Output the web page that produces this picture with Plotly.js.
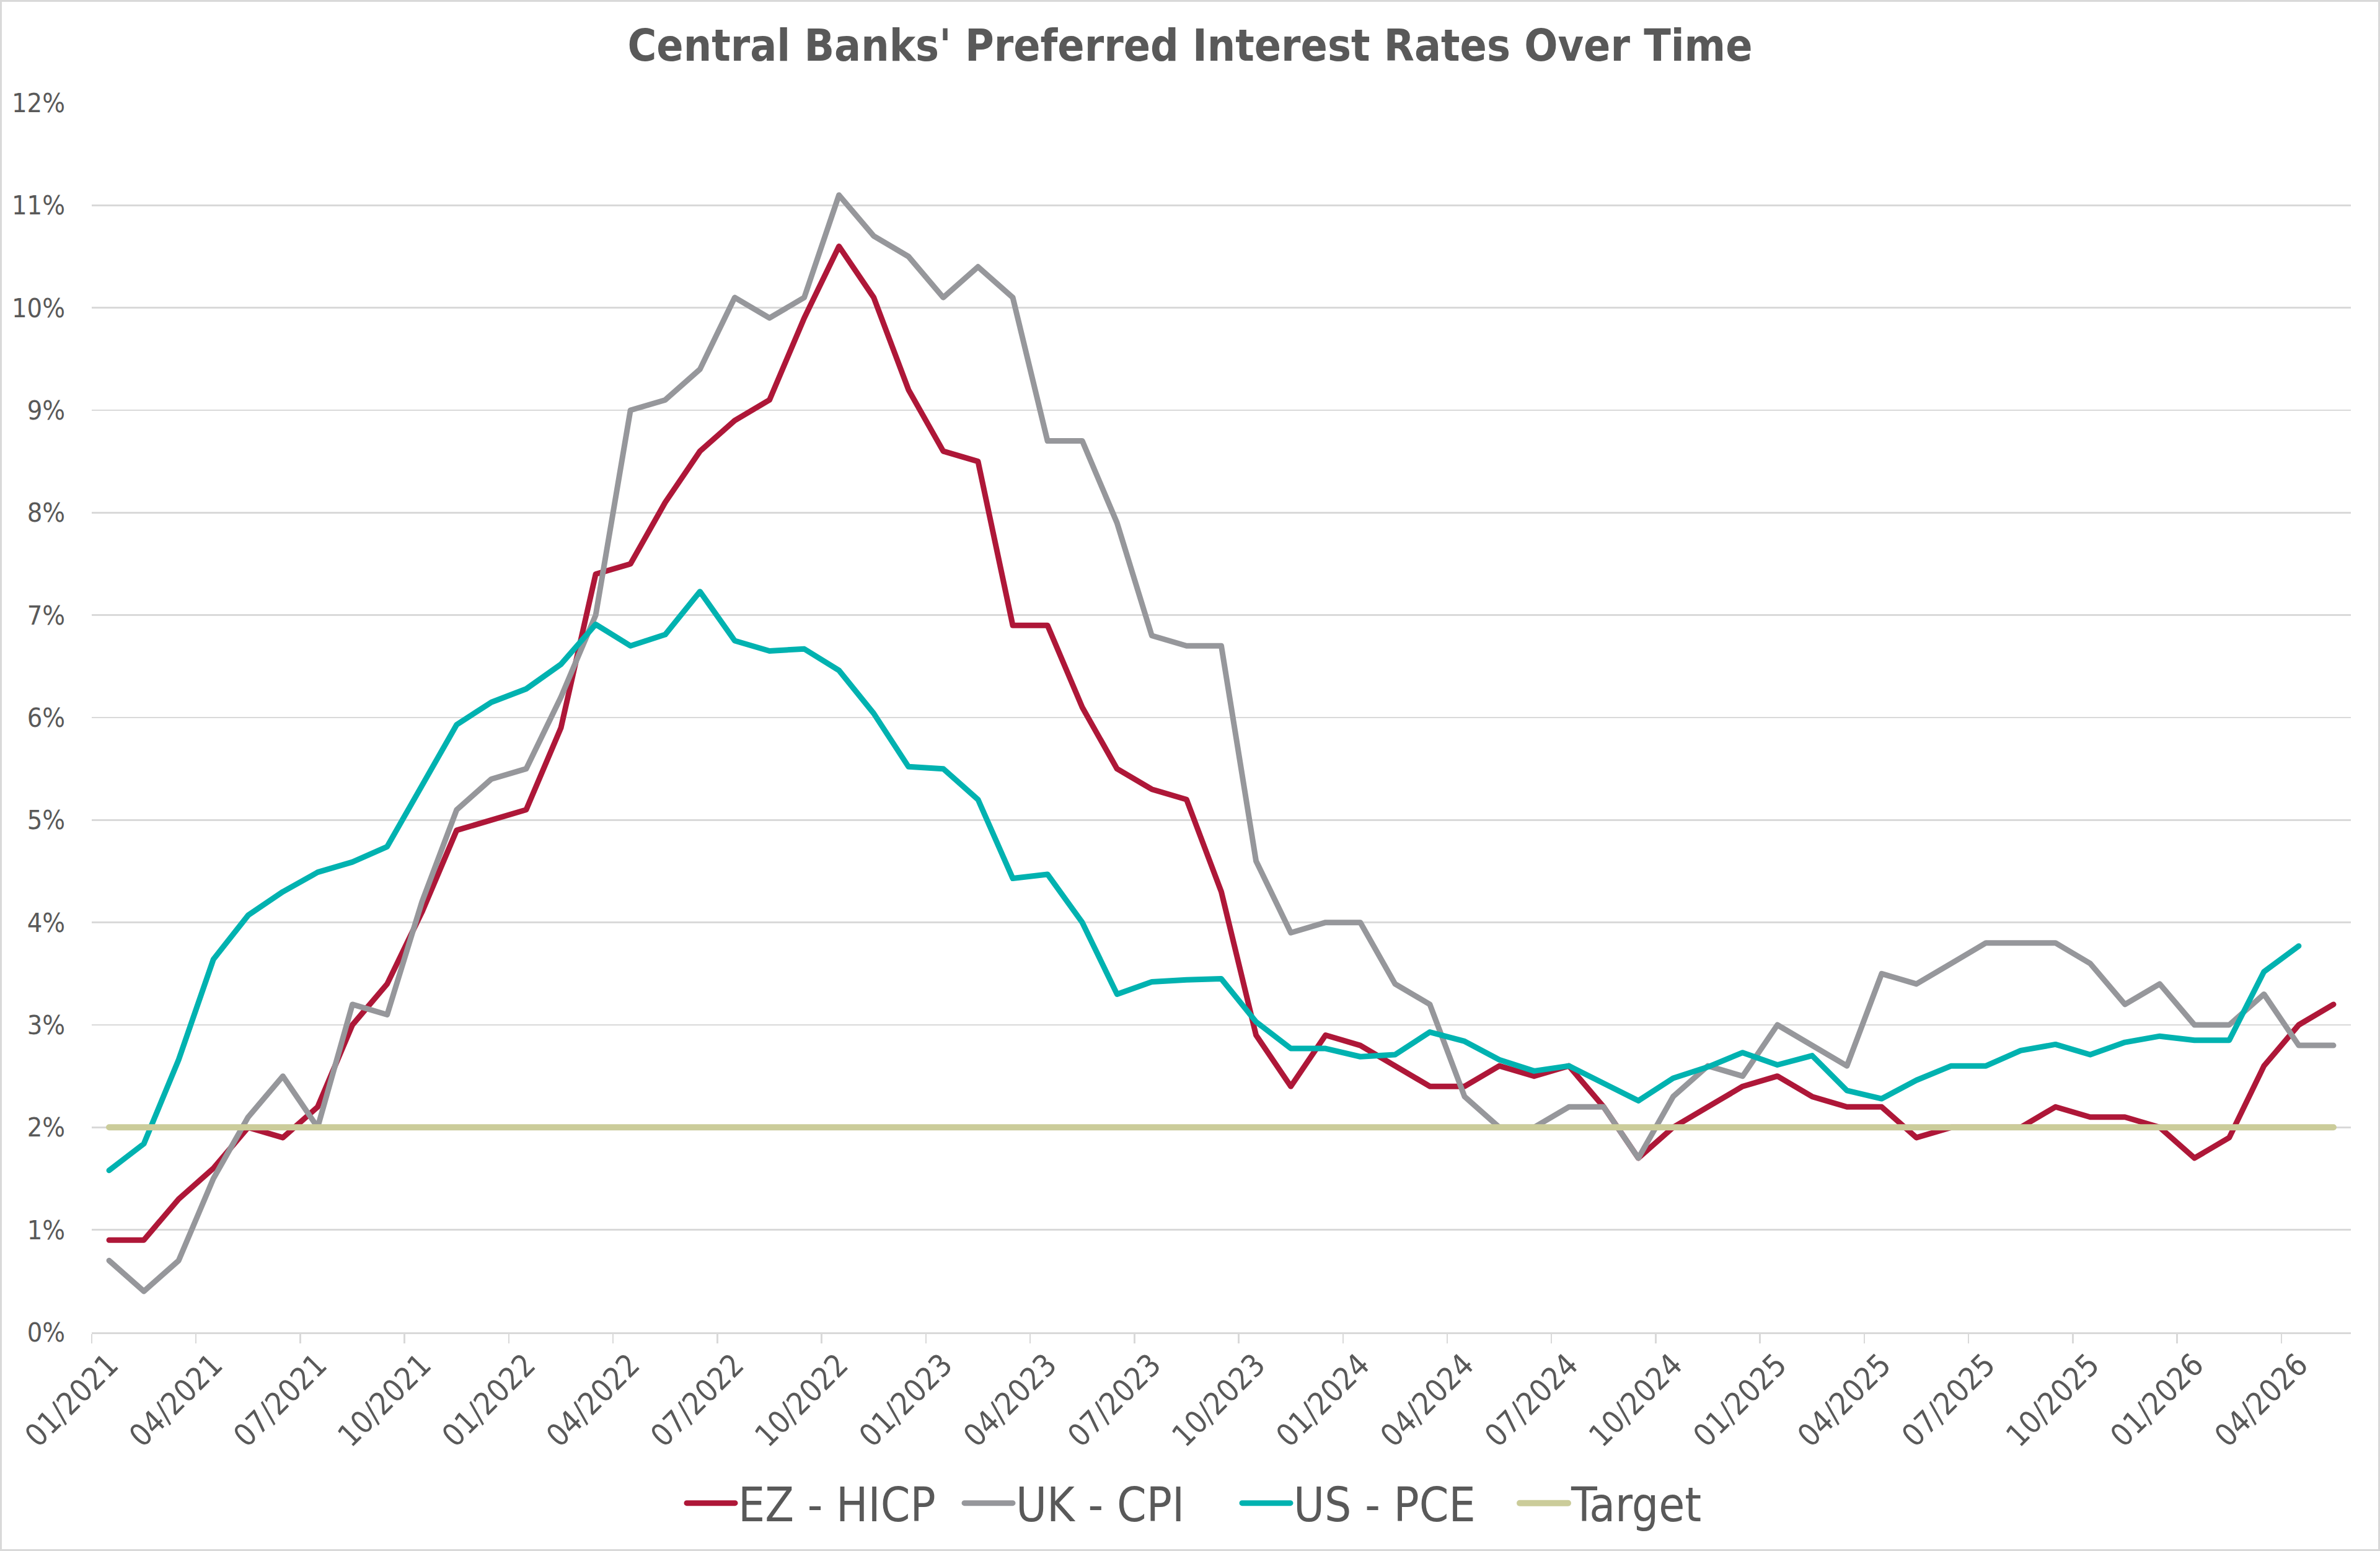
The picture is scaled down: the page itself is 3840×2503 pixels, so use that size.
<!DOCTYPE html>
<html>
<head>
<meta charset="utf-8">
<script src="https://cdn.plot.ly/plotly-3.0.1.min.js"></script>
<style>
  html, body { margin: 0; padding: 0; background: #ffffff; }
  #chart { width: 3840px; height: 2503px; box-sizing: border-box; border: 3px solid #d9d9d9; }
  #chart .js-line { stroke-linejoin: round; stroke-linecap: round; }
</style>
</head>
<body>
<div id="chart"></div>
<script>
// Monthly observations, January 2021 to May 2026
const months = [
  "01/2021","02/2021","03/2021","04/2021","05/2021","06/2021","07/2021","08/2021","09/2021","10/2021","11/2021","12/2021",
  "01/2022","02/2022","03/2022","04/2022","05/2022","06/2022","07/2022","08/2022","09/2022","10/2022","11/2022","12/2022",
  "01/2023","02/2023","03/2023","04/2023","05/2023","06/2023","07/2023","08/2023","09/2023","10/2023","11/2023","12/2023",
  "01/2024","02/2024","03/2024","04/2024","05/2024","06/2024","07/2024","08/2024","09/2024","10/2024","11/2024","12/2024",
  "01/2025","02/2025","03/2025","04/2025","05/2025","06/2025","07/2025","08/2025","09/2025","10/2025","11/2025","12/2025",
  "01/2026","02/2026","03/2026","04/2026","05/2026"
];

// Euro area HICP, % y/y
const ezHicp = [
  0.9, 0.9, 1.3, 1.6, 2.0, 1.9, 2.2, 3.0, 3.4, 4.1, 4.9, 5.0,
  5.1, 5.9, 7.4, 7.5, 8.1, 8.6, 8.9, 9.1, 9.9, 10.6, 10.1, 9.2,
  8.6, 8.5, 6.9, 6.9, 6.1, 5.5, 5.3, 5.2, 4.3, 2.9, 2.4, 2.9,
  2.8, 2.6, 2.4, 2.4, 2.6, 2.5, 2.6, 2.2, 1.7, 2.0, 2.2, 2.4,
  2.5, 2.3, 2.2, 2.2, 1.9, 2.0, 2.0, 2.0, 2.2, 2.1, 2.1, 2.0,
  1.7, 1.9, 2.6, 3.0, 3.2
];

// UK CPI, % y/y
const ukCpi = [
  0.7, 0.4, 0.7, 1.5, 2.1, 2.5, 2.0, 3.2, 3.1, 4.2, 5.1, 5.4,
  5.5, 6.2, 7.0, 9.0, 9.1, 9.4, 10.1, 9.9, 10.1, 11.1, 10.7, 10.5,
  10.1, 10.4, 10.1, 8.7, 8.7, 7.9, 6.8, 6.7, 6.7, 4.6, 3.9, 4.0,
  4.0, 3.4, 3.2, 2.3, 2.0, 2.0, 2.2, 2.2, 1.7, 2.3, 2.6, 2.5,
  3.0, 2.8, 2.6, 3.5, 3.4, 3.6, 3.8, 3.8, 3.8, 3.6, 3.2, 3.4,
  3.0, 3.0, 3.3, 2.8, 2.8
];

// US PCE price index, % y/y (one month shorter)
const usPce = [
  1.58, 1.84, 2.66, 3.64, 4.07, 4.30, 4.49, 4.59, 4.74, 5.34, 5.93, 6.15,
  6.28, 6.52, 6.91, 6.70, 6.81, 7.23, 6.75, 6.65, 6.67, 6.46, 6.04, 5.52,
  5.50, 5.20, 4.43, 4.47, 4.00, 3.30, 3.42, 3.44, 3.45, 3.03, 2.77, 2.77,
  2.69, 2.71, 2.93, 2.84, 2.66, 2.55, 2.60, 2.43, 2.26, 2.48, 2.59, 2.73,
  2.61, 2.70, 2.36, 2.28, 2.46, 2.60, 2.60, 2.75, 2.81, 2.71, 2.83, 2.89,
  2.85, 2.85, 3.52, 3.77
];

// Common 2% inflation target
const target = [
  2, 2, 2, 2, 2, 2, 2, 2, 2, 2, 2, 2,
  2, 2, 2, 2, 2, 2, 2, 2, 2, 2, 2, 2,
  2, 2, 2, 2, 2, 2, 2, 2, 2, 2, 2, 2,
  2, 2, 2, 2, 2, 2, 2, 2, 2, 2, 2, 2,
  2, 2, 2, 2, 2, 2, 2, 2, 2, 2, 2, 2,
  2, 2, 2, 2, 2
];

const seriesNames = ["EZ - HICP", "UK - CPI", "US - PCE", "Target"];
const seriesColors = ["#ae1738", "#96979b", "#00b2b0", "#cbcc9a"];

const FONT = "'Liberation Sans Narrow', 'DejaVu Sans Condensed', 'Liberation Sans', sans-serif";
const TEXT = "#595959";

function line(y, i, width) {
  return {
    type: "scatter",
    mode: "lines",
    name: seriesNames[i],
    x: months.slice(0, y.length),
    y: y,
    line: { color: seriesColors[i], width: width },
    hoverinfo: "skip"
  };
}

const data = [
  line(ezHicp, 0, 9),
  line(ukCpi, 1, 9),
  line(usPce, 2, 9),
  line(target, 3, 10)
];

const layout = {
  width: 3834,
  height: 2497,
  margin: { l: 145, r: 44, t: 163, b: 350, pad: 0 },
  paper_bgcolor: "#ffffff",
  plot_bgcolor: "#ffffff",
  font: { family: FONT, color: TEXT, size: 45 },
  title: {
    text: "<b>Central Banks' Preferred Interest Rates Over Time</b>",
    font: { family: FONT, size: 71, color: TEXT },
    x: 0.5, xref: "container", xanchor: "center",
    y: 0.972, yref: "container", yanchor: "middle"
  },
  xaxis: {
    type: "category",
    categoryorder: "array",
    categoryarray: months,
    range: [-0.5, months.length - 0.5],
    tickmode: "linear",
    tick0: 0,
    dtick: 3,
    tickson: "boundaries",
    ticks: "outside",
    ticklen: 15,
    tickwidth: 2.5,
    tickcolor: "#d9d9d9",
    tickangle: -45,
    tickfont: { family: FONT, size: 50, color: TEXT },
    showgrid: false,
    showline: true,
    linecolor: "#d9d9d9",
    linewidth: 3,
    zeroline: false,
    fixedrange: true
  },
  yaxis: {
    range: [0, 12],
    tickmode: "linear",
    tick0: 0,
    dtick: 1,
    ticksuffix: "%",
    tickfont: { family: FONT, size: 43, color: TEXT },
    ticks: "",
    ticklabelstandoff: 42,
    showgrid: true,
    gridcolor: "#d9d9d9",
    gridwidth: 2.5,
    zeroline: false,
    showline: false,
    fixedrange: true
  },
  showlegend: true,
  legend: {
    orientation: "h",
    x: 0.262, xanchor: "left",
    y: -0.139, yanchor: "middle",
    font: { family: FONT, size: 76, color: TEXT },
    itemwidth: 78,
    entrywidth: 355,
    entrywidthmode: "pixels",
    traceorder: "normal",
    bgcolor: "rgba(0,0,0,0)"
  }
};

Plotly.newPlot("chart", data, layout, { displayModeBar: false, staticPlot: true });
</script>
</body>
</html>
